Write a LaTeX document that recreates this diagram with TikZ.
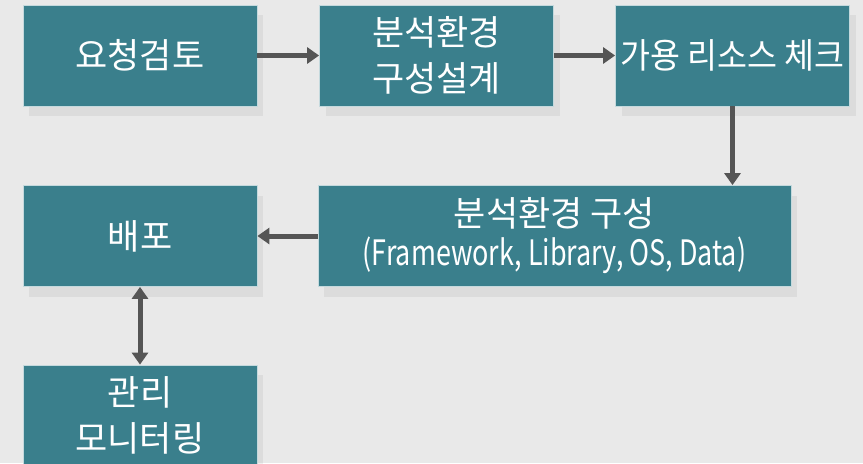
\documentclass[tikz,border=0pt]{standalone}
\usepackage{fontspec}
\newfontfamily\krfont{Noto Sans CJK KR}
\newfontfamily\krtight[FakeStretch=0.93]{Noto Sans CJK KR}
\newfontfamily\krnarrow[FakeStretch=0.77]{Noto Sans CJK KR}
\usetikzlibrary{arrows.meta,shadows}
\definecolor{boxteal}{HTML}{3A7F8C}
\definecolor{bggray}{HTML}{E9E9E9}
\definecolor{arrowgray}{HTML}{555555}

\begin{document}
\begin{tikzpicture}[x=0.5pt, y=-0.5pt,
  stepbox/.style={fill=boxteal, draw=white!70!boxteal, line width=0.4pt, text=white,
    font=\krfont\fontsize{17.5}{23}\selectfont, align=center, inner sep=0pt,
    minimum width=117pt, minimum height=50.5pt,
    drop shadow={opacity=0.12, shadow xshift=3pt, shadow yshift=-5pt}},
  flow/.style={draw=arrowgray, line width=2.5pt, -{Triangle[length=6pt,width=8pt]}},
  both/.style={draw=arrowgray, line width=2.5pt, {Triangle[length=6pt,width=8pt]}-{Triangle[length=6pt,width=8pt]}}]
\fill[bggray] (0,0) rectangle (863,463);
\useasboundingbox (0,0) rectangle (863,463);

% top row
\node[stepbox] (review) at (140,55.5) {요청검토};
\node[stepbox] (design) at (436.5,55.5) {분석환경\\구성설계};
\node[stepbox, font=\krtight\fontsize{17.5}{23}\selectfont] (check) at (732.5,55.5) {가용 리소스 체크};

% second row
\node[stepbox, minimum width=236.5pt, font=\krfont\fontsize{17.5}{19.5}\selectfont] (build) at (554.5,236)
  {분석환경 구성\\{\krnarrow (Framework, Library, OS, Data)}};
\node[stepbox] (deploy) at (140,236) {배포};

% bottom
\node[stepbox] (monitor) at (140,415.5) {관리\\모니터링};

\draw[flow] (review) -- (design);
\draw[flow] (design) -- (check);
\draw[flow] (check) -- (check |- build.north);
\draw[flow] (build) -- (deploy);
\draw[both] (deploy) -- (monitor);
\end{tikzpicture}
\end{document}
